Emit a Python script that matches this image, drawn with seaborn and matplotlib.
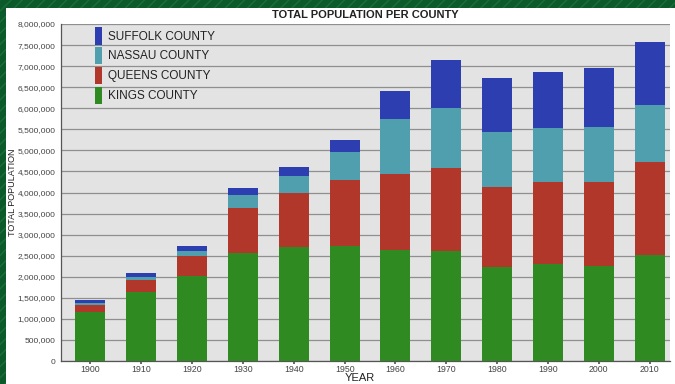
import numpy as np
import pandas as pd
import matplotlib
matplotlib.use("Agg")
import matplotlib.pyplot as plt
from matplotlib.patches import Rectangle, Patch
from matplotlib.ticker import FuncFormatter
import seaborn as sns

years = ["1900", "1910", "1920", "1930", "1940", "1950", "1960", "1970", "1980", "1990", "2000", "2010"]
kings = [1166582, 1634351, 2018356, 2560401, 2698285, 2738175, 2627319, 2602012, 2230936, 2300664, 2260000, 2504700]
queens = [152999, 284041, 469042, 1079129, 1297634, 1550849, 1809578, 1986473, 1891325, 1951598, 1990000, 2230722]
nassau = [55448, 83930, 126120, 303053, 406748, 672765, 1300171, 1428080, 1321582, 1287348, 1300000, 1339532]
suffolk = [77582, 96138, 110246, 161055, 197355, 276129, 666784, 1124950, 1284231, 1321864, 1400000, 1493350]

counties = ["KINGS COUNTY", "QUEENS COUNTY", "NASSAU COUNTY", "SUFFOLK COUNTY"]
colors = {"KINGS COUNTY": "#2f8a22", "QUEENS COUNTY": "#b1372b",
          "NASSAU COUNTY": "#4f9fae", "SUFFOLK COUNTY": "#2d3eb0"}

sns.set_theme(style="white")
plt.rcParams["font.family"] = ["Liberation Sans", "DejaVu Sans"]

df = pd.DataFrame({"year": years, "KINGS COUNTY": kings, "QUEENS COUNTY": queens,
                   "NASSAU COUNTY": nassau, "SUFFOLK COUNTY": suffolk})
cum = df[counties].cumsum(axis=1)
cum["year"] = df["year"]

fig = plt.figure(figsize=(6.75, 3.84), dpi=100)
fig.patch.set_facecolor("white")
# green border bands
fig.patches.append(Rectangle((0, 1 - 8 / 384), 1, 8 / 384, transform=fig.transFigure,
                             facecolor="#0c5a2b", edgecolor="#187038", hatch="///", lw=0, zorder=0))
fig.patches.append(Rectangle((0, 0), 6 / 675, 1, transform=fig.transFigure,
                             facecolor="#0c5a2b", edgecolor="#187038", hatch="///", lw=0, zorder=0))

ax = fig.add_axes([61 / 675, 1 - 361 / 384, (670 - 61) / 675, (361 - 24) / 384])
ax.set_facecolor("#e3e3e3")

for c in reversed(counties):
    sns.barplot(data=cum, x="year", y=c, order=years, color=colors[c], width=0.59,
                saturation=1, ax=ax, zorder=3, edgecolor="none", linewidth=0)

ax.set_ylim(0, 8000000)
ax.set_xlim(-0.58, 11.40)
ax.set_yticks(np.arange(0, 8000001, 500000))
ax.yaxis.set_major_formatter(FuncFormatter(lambda v, p: f"{int(v):,}"))
ax.grid(axis="y", color="#8f8f8f", lw=0.9, zorder=0)
ax.set_axisbelow(True)
for s in ["top", "right"]:
    ax.spines[s].set_visible(False)
for s in ["left", "bottom"]:
    ax.spines[s].set_color("#555555")
    ax.spines[s].set_linewidth(0.9)
ax.tick_params(axis="y", labelsize=6, labelcolor="#444444", length=4, color="#8f8f8f", pad=0)
ax.tick_params(axis="x", labelsize=6.3, labelcolor="#444444", length=2, color="#555555", pad=1,
               bottom=True)

ax.set_xlabel("YEAR", fontsize=8, color="#222222", va="top")
ax.xaxis.set_label_coords(0.49, -0.036)
ax.set_ylabel("TOTAL POPULATION", fontsize=6.5, color="#222222", va="center")
ax.yaxis.set_label_coords(-0.079, 0.5)
ax.set_title("TOTAL POPULATION PER COUNTY", fontsize=8, fontweight="bold", color="#222222", pad=4)

handles = [Patch(facecolor=colors[c], edgecolor="none") for c in reversed(counties)]
leg = ax.legend(handles, list(reversed(counties)), loc="upper left", bbox_to_anchor=(0.045, 1.012),
                frameon=False, fontsize=8.5, handlelength=0.55, handleheight=1.9,
                handletextpad=0.5, labelspacing=0.2, borderaxespad=0.2)
for t in leg.get_texts():
    t.set_color("#222222")

fig.savefig("out.png", dpi=100)
